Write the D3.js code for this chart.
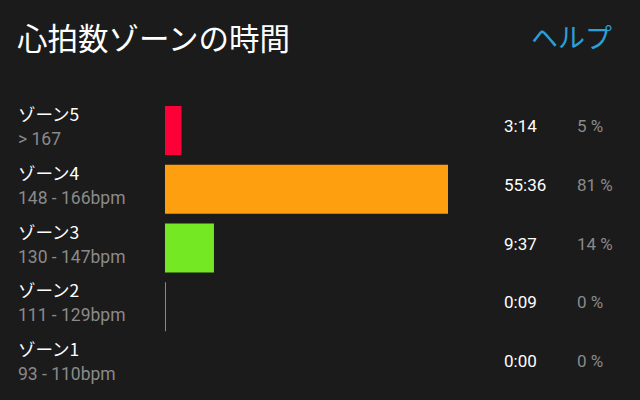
<!DOCTYPE html>
<html>
<head>
<meta charset="utf-8">
<script src="https://cdn.jsdelivr.net/npm/d3@7"></script>
<style>
  html, body { margin: 0; padding: 0; background: #1b1b1b; }
  svg { display: block; }
</style>
</head>
<body>
<svg id="chart" width="640" height="400"></svg>
<script>
const zones = ["ゾーン5", "ゾーン4", "ゾーン3", "ゾーン2", "ゾーン1"];
const ranges = ["> 167", "148 - 166bpm", "130 - 147bpm", "111 - 129bpm", "93 - 110bpm"];
const seconds = [194, 3336, 577, 9, 0];
const percents = [5, 81, 14, 0, 0];
const colors = ["#fc0037", "#fd9f0f", "#73e823", "#3f9ee0", "#888888"];

const JP = '"Noto Sans CJK JP", sans-serif';
const RB = 'Roboto, "Noto Sans CJK JP", sans-serif';

const svg = d3.select("#chart");
svg.append("rect").attr("width", 640).attr("height", 400).attr("fill", "#1b1b1b");

svg.append("text").attr("x", 17).attr("y", 50)
  .style("font-family", JP).style("font-size", "30.5px")
  .attr("fill", "#ffffff").text("心拍数ゾーンの時間");
svg.append("text").attr("x", 612).attr("y", 48).attr("text-anchor", "end")
  .style("font-family", JP).style("font-size", "27px")
  .attr("fill", "#2a9fd8").text("ヘルプ");

const y = d3.scaleBand().domain(zones).range([106, 390]).paddingInner(0.166).paddingOuter(0);
const x = d3.scaleLinear().domain([0, d3.max(seconds)]).range([165, 448]);

const fmt = s => Math.floor(s / 60) + ":" + String(s % 60).padStart(2, "0");

const rows = svg.selectAll("g.row").data(zones.map((z, i) => ({z, i})))
  .enter().append("g").attr("class", "row");

rows.filter(d => seconds[d.i] > 0).append("rect")
  .attr("x", x(0))
  .attr("y", d => y(d.z))
  .attr("width", d => Math.max(1, x(seconds[d.i]) - x(0)))
  .attr("height", y.bandwidth())
  .attr("fill", d => colors[d.i]);

rows.append("text").attr("x", 18).attr("y", d => y(d.z) + 15)
  .style("font-family", JP).style("font-size", "17.5px")
  .attr("fill", "#ffffff").text(d => d.z);
rows.append("text").attr("x", 18).attr("y", d => y(d.z) + 39)
  .style("font-family", RB).style("font-size", "17.5px")
  .attr("fill", "#8a8a8a").text(d => ranges[d.i]);
rows.append("text").attr("x", 504).attr("y", d => y(d.z) + 26)
  .style("font-family", RB).style("font-size", "17px")
  .attr("fill", "#ffffff").text(d => fmt(seconds[d.i]));
rows.append("text").attr("x", 577).attr("y", d => y(d.z) + 26)
  .style("font-family", RB).style("font-size", "17px")
  .attr("fill", "#8a8a8a").text(d => percents[d.i] + " %");
</script>
</body>
</html>
